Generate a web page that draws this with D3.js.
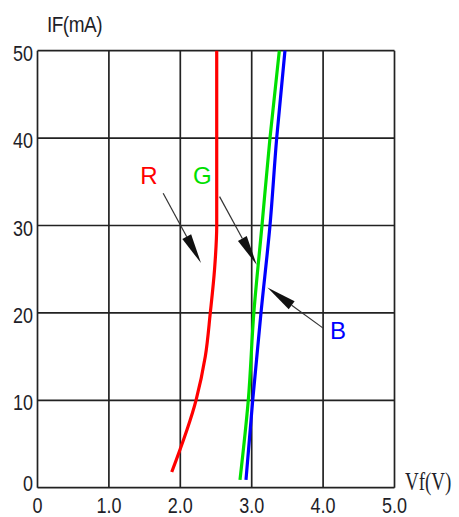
<!DOCTYPE html>
<html lang="en">
<head>
    <meta charset="utf-8">
    <title>IF vs Vf</title>
    <script src="https://d3js.org/d3.v7.min.js"></script>
    <style>
        body { margin: 0; background: #fff; }
        .grid line { stroke: #222; stroke-width: 1.7px; }
        .tick-label { font-family: "Liberation Sans", Arial, sans-serif; font-size: 18px; fill: #1e1e28; }
        .curve { fill: none; stroke-width: 3.2px; stroke-linejoin: round; }
    </style>
</head>
<body>
<script type="text/javascript">

    var w = 459;
    var h = 517;

    // data (Vf in volts, IF in mA)
    var xTicks = [0, 1, 2, 3, 4, 5];
    var xTickLabels = ["0", "1.0", "2.0", "3.0", "4.0", "5.0"];
    var yTicks = [0, 10, 20, 30, 40, 50];

    var redVf = [1.88, 2.22, 2.35, 2.42, 2.48, 2.51, 2.51, 2.51];
    var redIf = [1.8, 10, 15, 20, 25, 30, 40, 50];
    var greenVf = [2.836, 2.952, 3.03, 3.144, 3.256, 3.387];
    var greenIf = [0.9, 10, 20, 30, 40, 50];
    var blueVf = [2.92, 3.014, 3.13, 3.256, 3.35, 3.466];
    var blueIf = [0.9, 10, 20, 30, 40, 50];

    var labelNames = ["R", "G", "B"];
    var labelColors = ["#ff0000", "#00e000", "#0000ff"];
    var labelVf = [1.56, 2.31, 4.21];
    var labelIf = [35.8, 35.8, 18.0];
    // arrows: start -> tip
    var arrowFromVf = [1.76, 2.55, 4.01];
    var arrowFromIf = [33.7, 33.3, 18.2];
    var arrowToVf = [2.29, 3.07, 3.22];
    var arrowToIf = [25.7, 25.5, 22.9];

    var svg = d3.select("body")
            .append("svg")
            .attr("width", w)
            .attr("height", h);

    var x = d3.scaleLinear().domain([0, 5]).range([37.5, 394.5]);
    var y = d3.scaleLinear().domain([0, 50]).range([487.7, 50.7]);

    //grid
    var grid = svg.append("g").attr("class", "grid");
    grid.selectAll("line.v")
            .data(xTicks)
            .enter()
            .append("line")
            .attr("x1", function (d) { return x(d); })
            .attr("x2", function (d) { return x(d); })
            .attr("y1", y(0))
            .attr("y2", y(50));
    grid.selectAll("line.h")
            .data(yTicks)
            .enter()
            .append("line")
            .attr("class", "h")
            .attr("y1", function (d) { return y(d); })
            .attr("y2", function (d) { return y(d); })
            .attr("x1", x(0))
            .attr("x2", x(5));

    //tick labels (the original font is stretched vertically)
    svg.selectAll("text.xl")
            .data(xTicks)
            .enter()
            .append("text")
            .attr("class", "tick-label")
            .attr("transform", function (d) { return "translate(" + x(d) + ",513) scale(1,1.2)"; })
            .attr("text-anchor", "middle")
            .text(function (d, i) { return xTickLabels[i]; });

    svg.selectAll("text.yl")
            .data(yTicks)
            .enter()
            .append("text")
            .attr("class", "tick-label")
            .attr("transform", function (d) {
                var yy = d === 0 ? y(d) + 3 : y(d) + 10;
                return "translate(33," + yy + ") scale(1,1.25)";
            })
            .attr("text-anchor", "end")
            .text(function (d) { return d; });

    //axis titles
    svg.append("text")
            .attr("class", "tick-label")
            .attr("transform", "translate(47,32) scale(1,1.12)")
            .style("font-size", "19px")
            .style("letter-spacing", "-0.5px")
            .text("IF(mA)");
    svg.append("text")
            .attr("transform", "translate(405,490) scale(1,1.3)")
            .style("font-family", "'Liberation Serif', 'Times New Roman', serif")
            .style("font-size", "19px")
            .style("fill", "#1e1e28")
            .text("Vf(V)");

    //curves
    var line = d3.line()
            .x(function (d) { return x(d[0]); })
            .y(function (d) { return y(d[1]); })
            .curve(d3.curveMonotoneY);

    var curves = [
        {color: "#ff0000", pts: d3.zip(redVf, redIf)},
        {color: "#00e000", pts: d3.zip(greenVf, greenIf)},
        {color: "#0000ff", pts: d3.zip(blueVf, blueIf)}
    ];

    svg.selectAll("path.curve")
            .data(curves)
            .enter()
            .append("path")
            .attr("class", "curve")
            .attr("stroke", function (d) { return d.color; })
            .attr("d", function (d) { return line(d.pts); });

    //arrows
    var arrowG = svg.append("g");
    labelNames.forEach(function (n, i) {
        var x1 = x(arrowFromVf[i]), y1 = y(arrowFromIf[i]);
        var x2 = x(arrowToVf[i]), y2 = y(arrowToIf[i]);
        var ang = Math.atan2(y2 - y1, x2 - x1);
        var hl = 30, hw = 5;
        var bx = x2 - hl * Math.cos(ang), by = y2 - hl * Math.sin(ang);
        arrowG.append("line")
                .attr("x1", x1).attr("y1", y1)
                .attr("x2", bx).attr("y2", by)
                .attr("stroke", "#333")
                .attr("stroke-width", 1.2);
        var px = -Math.sin(ang) * hw, py = Math.cos(ang) * hw;
        arrowG.append("path")
                .attr("d", "M" + x2 + "," + y2 + "L" + (bx + px) + "," + (by + py) + "L" + (bx - px) + "," + (by - py) + "Z")
                .attr("fill", "#111");

        svg.append("text")
                .attr("x", x(labelVf[i]))
                .attr("y", y(labelIf[i]) + 9)
                .attr("text-anchor", "middle")
                .style("font-family", "'Liberation Sans', Arial, sans-serif")
                .style("font-size", "24px")
                .style("fill", labelColors[i])
                .text(n);
    });

</script>
</body>
</html>
